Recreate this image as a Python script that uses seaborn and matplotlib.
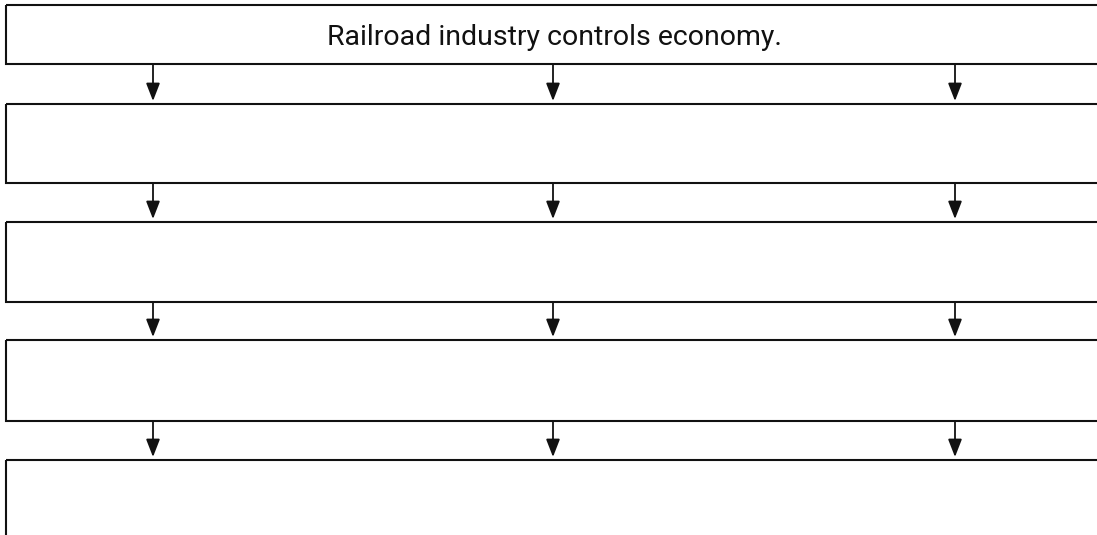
import matplotlib
matplotlib.use("Agg")
import matplotlib.pyplot as plt
import seaborn as sns
from matplotlib.patches import Rectangle

# flowchart layout (pixel units, y grows downward)
box_tops = [5, 104, 222, 340, 460]
box_bottoms = [64, 183, 302, 421, 560]
box_labels = ["Railroad industry controls economy.", "", "", "", ""]
arrow_x = [153, 553, 955]

sns.set_theme(style="white")
plt.rcParams['font.family'] = ['Roboto', 'DejaVu Sans']

fig = plt.figure(figsize=(10.97, 5.35), dpi=100)
ax = fig.add_axes([0, 0, 1, 1])
ax.set_xlim(0, 1097)
ax.set_ylim(535, 0)
ax.axis("off")

left, right = 6, 1110
for top, bottom, label in zip(box_tops, box_bottoms, box_labels):
    ax.add_patch(Rectangle((left, top), right - left, bottom - top,
                           fill=False, edgecolor="#111111", linewidth=1.5))
    if label:
        ax.text(554, 45, label, ha="center", va="baseline",
                fontsize=20.5, color="#111111")

# arrows between consecutive boxes
for bottom, next_top in zip(box_bottoms[:-1], box_tops[1:]):
    for x in arrow_x:
        ax.annotate("", xy=(x, next_top - 3), xytext=(x, bottom),
                    arrowprops=dict(arrowstyle="-|>,head_length=0.9,head_width=0.35",
                                    color="#111111", linewidth=1.3,
                                    shrinkA=0, shrinkB=0))

fig.savefig("out.png", dpi=100)
